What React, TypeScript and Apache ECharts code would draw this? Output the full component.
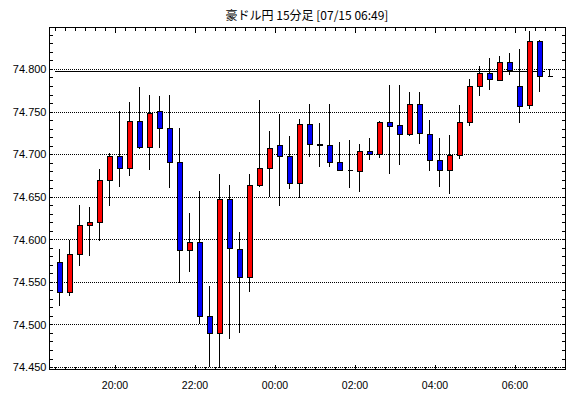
import React, { useEffect, useRef } from 'react';
import * as echarts from 'echarts';

const TITLE = '豪ドル円 15分足 [07/15 06:49]';

const times = [
  '18:30', '18:45', '19:00', '19:15', '19:30', '19:45', '20:00', '20:15', '20:30', '20:45',
  '21:00', '21:15', '21:30', '21:45', '22:00', '22:15', '22:30', '22:45', '23:00', '23:15',
  '23:30', '23:45', '00:00', '00:15', '00:30', '00:45', '01:00', '01:15', '01:30', '01:45',
  '02:00', '02:15', '02:30', '02:45', '03:00', '03:15', '03:30', '03:45', '04:00', '04:15',
  '04:30', '04:45', '05:00', '05:15', '05:30', '05:45', '06:00', '06:15', '06:30', '06:45',
];

const opens = [
  74.573, 74.538, 74.583, 74.616, 74.620, 74.669, 74.698, 74.683, 74.739, 74.708,
  74.750, 74.730, 74.690, 74.587, 74.597, 74.510, 74.490, 74.647, 74.588, 74.555,
  74.664, 74.684, 74.711, 74.698, 74.666, 74.735, 74.712, 74.710, 74.691, 74.681,
  74.680, 74.703, 74.700, 74.738, 74.734, 74.723, 74.758, 74.723, 74.693, 74.681,
  74.699, 74.738, 74.780, 74.795, 74.787, 74.808, 74.780, 74.757, 74.833, 74.791,
];
const closes = [
  74.538, 74.583, 74.616, 74.620, 74.669, 74.698, 74.683, 74.739, 74.708, 74.748,
  74.730, 74.690, 74.587, 74.597, 74.510, 74.490, 74.647, 74.589, 74.555, 74.664,
  74.684, 74.707, 74.698, 74.666, 74.735, 74.712, 74.710, 74.691, 74.681, 74.681,
  74.703, 74.700, 74.738, 74.733, 74.723, 74.758, 74.724, 74.693, 74.681, 74.699,
  74.738, 74.780, 74.795, 74.788, 74.808, 74.798, 74.756, 74.833, 74.791, 74.791,
];
const lows = [
  74.522, 74.534, 74.569, 74.581, 74.598, 74.639, 74.662, 74.675, 74.706, 74.682,
  74.708, 74.661, 74.549, 74.562, 74.501, 74.450, 74.449, 74.483, 74.490, 74.538,
  74.662, 74.650, 74.639, 74.659, 74.649, 74.697, 74.685, 74.685, 74.680, 74.661,
  74.656, 74.693, 74.696, 74.677, 74.688, 74.722, 74.712, 74.681, 74.662, 74.653,
  74.694, 74.733, 74.768, 74.776, 74.786, 74.793, 74.737, 74.753, 74.773, 74.791,
];
const highs = [
  74.589, 74.600, 74.641, 74.638, 74.683, 74.702, 74.751, 74.761, 74.779, 74.770,
  74.769, 74.770, 74.731, 74.631, 74.657, 74.546, 74.677, 74.664, 74.609, 74.677,
  74.764, 74.728, 74.747, 74.722, 74.741, 74.759, 74.737, 74.759, 74.714, 74.717,
  74.712, 74.719, 74.739, 74.782, 74.782, 74.773, 74.773, 74.740, 74.719, 74.723,
  74.758, 74.789, 74.804, 74.813, 74.815, 74.819, 74.824, 74.845, 74.834, 74.800,
];

const yTickLabels = ['74.450', '74.500', '74.550', '74.600', '74.650', '74.700', '74.750', '74.800'];
const xTickLabels = ['20:00', '22:00', '00:00', '02:00', '04:00', '06:00'];
const refLineValue = 74.7977;
const refLineFrom = '18:30';
const refLineTo = '06:45';

// minutes after 18:00
function toMin(t: string): number {
  const [h, m] = t.split(':').map(Number);
  return ((h - 18 + 24) % 24) * 60 + m;
}
function fromMin(v: number): string {
  const h = (18 + Math.floor(v / 60)) % 24;
  const m = Math.round(v % 60);
  return String(h).padStart(2, '0') + ':' + String(m).padStart(2, '0');
}

const X_MIN = 21.75;
const X_MAX = 795;
const Y_MIN = 74.4474;
const Y_MAX = 74.849;

export default function App() {
  const ref = useRef<HTMLDivElement>(null);
  useEffect(() => {
    if (!ref.current) return;
    const chart = echarts.init(ref.current, null, { renderer: 'svg' });

    const majorX = xTickLabels.map(toMin);
    const minorX: number[] = [];
    for (let v = 30; v <= 780; v += 15) minorX.push(v);
    const yLabelVals = yTickLabels.map(Number);
    const yTicks: number[] = [];
    for (let i = 0; i <= 39; i++) yTicks.push(Math.round((74.45 + i * 0.01) * 1000) / 1000);

    const axisLine = { show: true, lineStyle: { color: '#000', width: 1 } };
    const baseX = { type: 'value', min: X_MIN, max: X_MAX, splitLine: { show: false } };
    const baseY = { type: 'value', min: Y_MIN, max: Y_MAX, splitLine: { show: false }, scale: true };

    const option: any = {
      animation: false,
      backgroundColor: '#fff',
      grid: { left: 49.5, right: 5, top: 27.5, bottom: 28.5, containLabel: false },
      graphic: [
        {
          type: 'text',
          x: 307,
          y: 14,
          style: {
            text: TITLE,
            textAlign: 'center',
            textVerticalAlign: 'middle',
            fontSize: 12,
            fontFamily: 'Noto Sans CJK JP',
            fill: '#000',
          },
        },
      ],
      xAxis: [
        {
          ...baseX,
          position: 'bottom',
          axisLine,
          axisTick: { show: true, inside: true, length: 5, customValues: majorX, lineStyle: { color: '#000' } },
          axisLabel: {
            show: true,
            customValues: majorX,
            formatter: (v: number) => fromMin(v),
            color: '#000',
            fontSize: 10.5,
            fontFamily: 'Liberation Sans',
            margin: 10,
          },
        },
        {
          ...baseX,
          position: 'bottom',
          axisLine: { show: false },
          axisTick: { show: true, inside: true, length: 3, customValues: minorX, lineStyle: { color: '#000' } },
          axisLabel: { show: false },
        },
        {
          ...baseX,
          position: 'top',
          axisLine,
          axisTick: { show: true, inside: true, length: 5, customValues: majorX, lineStyle: { color: '#000' } },
          axisLabel: { show: false },
        },
        {
          ...baseX,
          position: 'top',
          axisLine: { show: false },
          axisTick: { show: true, inside: true, length: 3, customValues: minorX, lineStyle: { color: '#000' } },
          axisLabel: { show: false },
        },
      ],
      yAxis: [
        {
          ...baseY,
          position: 'left',
          axisLine,
          axisTick: { show: true, inside: true, length: 3, customValues: yTicks, lineStyle: { color: '#000' } },
          axisLabel: {
            show: true,
            customValues: yLabelVals,
            formatter: (v: number) => v.toFixed(3),
            color: '#000',
            fontSize: 11,
            fontFamily: 'Liberation Sans',
            margin: 3,
          },
        },
        {
          ...baseY,
          position: 'right',
          axisLine,
          axisTick: { show: true, inside: true, length: 3, customValues: yTicks, lineStyle: { color: '#000' } },
          axisLabel: { show: false },
        },
      ],
      series: [
        {
          type: 'candlestick',
          xAxisIndex: 0,
          yAxisIndex: 0,
          barWidth: 6,
          data: times.map((t, i) => [toMin(t) + 7.5, opens[i], closes[i], lows[i], highs[i]]),
          encode: { x: 0, y: [1, 2, 3, 4] },
          itemStyle: {
            color: '#ff0000',
            color0: '#0000ff',
            borderColor: '#000',
            borderColor0: '#000',
            borderColorDoji: '#000',
            borderWidth: 1,
          },
          markLine: {
            silent: true,
            symbol: ['none', 'none'],
            label: { show: false },
            z: 1,
            data: [
              ...yLabelVals.map((v) => ({
                yAxis: v,
                lineStyle: { type: [1, 1], color: '#000', width: 1 },
              })),
              [
                { coord: [toMin(refLineFrom), refLineValue], lineStyle: { type: 'solid', color: '#000', width: 1 } },
                { coord: [toMin(refLineTo), refLineValue] },
              ],
            ],
          },
        },
      ],
    };
    chart.setOption(option);
    return () => chart.dispose();
  }, []);
  return (
    <>
      <style>{'.fxchart svg path { shape-rendering: crispEdges; }'}</style>
      <div
        ref={ref}
        className="fxchart"
        style={{ position: 'absolute', left: 0, top: 0, width: 570, height: 398 }}
      />
    </>
  );
}
